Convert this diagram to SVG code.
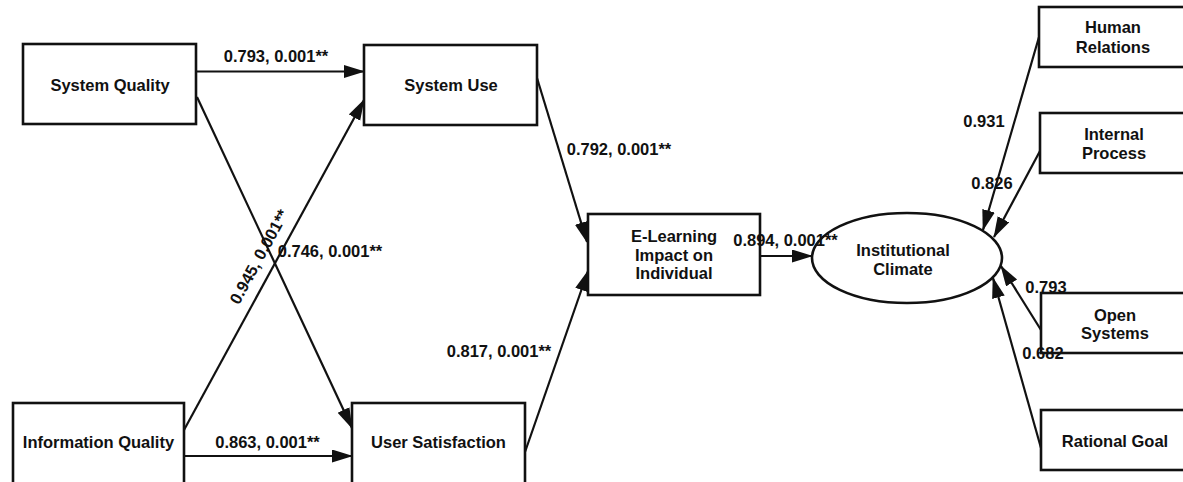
<svg xmlns="http://www.w3.org/2000/svg" width="1183" height="482" viewBox="0 0 1183 482">
<style>
.box{fill:#fff;stroke:#111;stroke-width:2.6}
.t{font-family:"Liberation Sans",Arial,sans-serif;font-weight:bold;font-size:16.5px;fill:#111;text-anchor:middle}
.lb{font-family:"Liberation Sans",Arial,sans-serif;font-weight:bold;font-size:16.5px;fill:#111;text-anchor:middle}
.c{stroke:#111;stroke-width:2.2;fill:none;marker-end:url(#ah)}
</style>
<defs>
<marker id="ah" markerUnits="userSpaceOnUse" markerWidth="21" markerHeight="14" refX="20" refY="6.5" orient="auto">
<path d="M0,0 L21,6.5 L0,13 Z" fill="#111"/>
</marker>
</defs>
<rect width="1183" height="482" fill="#fff"/>
<g id="connectors">
<line class="c" x1="197" y1="71.5" x2="364" y2="71.5"/>
<line class="c" x1="184" y1="430" x2="364" y2="100"/>
<line class="c" x1="197" y1="97" x2="352" y2="428"/>
<line class="c" x1="184" y1="456" x2="352" y2="456"/>
<line class="c" x1="537" y1="78" x2="587" y2="242"/>
<line class="c" x1="525" y1="452" x2="588" y2="271"/>
<line class="c" x1="760" y1="256" x2="812" y2="256"/>
<line class="c" x1="1039" y1="37" x2="983" y2="230"/>
<line class="c" x1="1040" y1="151" x2="994" y2="237"/>
<line class="c" x1="1041" y1="330" x2="1001" y2="266"/>
<line class="c" x1="1041" y1="448" x2="993" y2="278"/>
</g>
<g id="system-quality">
<rect class="box" x="23" y="44" width="173" height="80"/>
<text class="t" x="110" y="91">System Quality</text>
</g>
<g id="system-use">
<rect class="box" x="364" y="45" width="173" height="80"/>
<text class="t" x="451" y="91">System Use</text>
</g>
<g id="information-quality">
<rect class="box" x="13" y="403" width="171" height="81"/>
<text class="t" x="98.5" y="448">Information Quality</text>
</g>
<g id="user-satisfaction">
<rect class="box" x="352" y="403" width="173" height="81"/>
<text class="t" x="438.5" y="448">User Satisfaction</text>
</g>
<g id="e-learning">
<rect class="box" x="588" y="214" width="172" height="81"/>
<text class="t" x="674" y="242">E-Learning</text>
<text class="t" x="674" y="260.5">Impact on</text>
<text class="t" x="674" y="279">Individual</text>
</g>
<g id="institutional-climate">
<ellipse class="box" cx="907" cy="258" rx="95" ry="45"/>
<text class="t" x="903" y="256">Institutional</text>
<text class="t" x="903" y="275">Climate</text>
</g>
<g id="human-relations">
<rect class="box" x="1039" y="7" width="150" height="60"/>
<text class="t" x="1113" y="33">Human</text>
<text class="t" x="1113" y="53">Relations</text>
</g>
<g id="internal-process">
<rect class="box" x="1040" y="113" width="150" height="60"/>
<text class="t" x="1114" y="140">Internal</text>
<text class="t" x="1114" y="159">Process</text>
</g>
<g id="open-systems">
<rect class="box" x="1041" y="293" width="150" height="60"/>
<text class="t" x="1115" y="321">Open</text>
<text class="t" x="1115" y="339">Systems</text>
</g>
<g id="rational-goal">
<rect class="box" x="1041" y="410" width="150" height="60"/>
<text class="t" x="1115" y="447">Rational Goal</text>
</g>
<g id="connector-labels">
<text class="lb" x="276" y="62">0.793, 0.001**</text>
<text class="lb" x="330" y="257">0.746, 0.001**</text>
<text class="lb" x="0" y="0" transform="translate(264,259.5) rotate(-61.4)">0.945, 0.001**</text>
<text class="lb" x="267.5" y="448">0.863, 0.001**</text>
<text class="lb" x="619" y="155">0.792, 0.001**</text>
<text class="lb" x="499" y="357">0.817, 0.001**</text>
<text class="lb" x="785.5" y="246">0.894, 0.001**</text>
<text class="lb" x="984" y="127">0.931</text>
<text class="lb" x="992" y="189">0.826</text>
<text class="lb" x="1046" y="293">0.793</text>
<text class="lb" x="1043" y="359">0.682</text>
</g>
</svg>
